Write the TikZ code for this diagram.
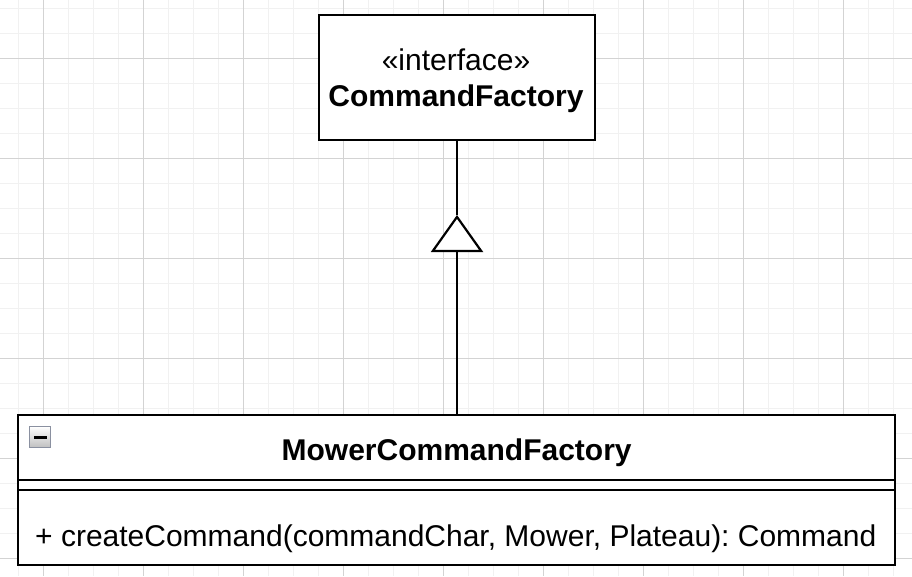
\documentclass[tikz,border=0pt]{standalone}
\usepackage{fontspec}
\setmainfont{Liberation Sans}
\usetikzlibrary{arrows.meta}
\definecolor{gridminor}{HTML}{F1F1F1}
\definecolor{gridmajor}{HTML}{D3D3D3}
\definecolor{iconborder}{HTML}{8A90A0}
\tikzset{
  umlbox/.style={draw=black, line width=2.2pt, fill=white, inner sep=0pt},
  umltext/.style={inner sep=0pt, font=\fontsize{30}{36}\selectfont},
  umlbold/.style={inner sep=0pt, font=\fontsize{30}{36}\selectfont\bfseries},
  conn/.style={line width=2.2pt, draw=black},
}
\begin{document}
\frenchspacing
\begin{tikzpicture}[x=1pt,y=-1pt]
\useasboundingbox (0,0) rectangle (912,576);
\fill[white] (0,0) rectangle (912,576);
% grid
\foreach \x in {0,...,36} {\draw[gridminor, line width=1.3pt] ({18.3+25*\x},0) -- ({18.3+25*\x},576);}
\foreach \y in {0,...,23} {\draw[gridminor, line width=1.3pt] (0,{8.3+25*\y}) -- (912,{8.3+25*\y});}
\foreach \x in {0,...,8} {\draw[gridmajor, line width=1pt] ({43.3+100*\x},0) -- ({43.3+100*\x},576);}
\foreach \y in {0,...,5} {\draw[gridmajor, line width=1pt] (0,{58.3+100*\y}) -- (912,{58.3+100*\y});}
% top interface box
\node[umlbox, minimum width=276pt, minimum height=125pt] (cf) at (457,77.5) {};
\node[umltext, anchor=base] (cfst) at (456,70) {«interface»};
\node[umlbold, anchor=base] (cfname) at (456,106) {CommandFactory};
% bottom class box
\node[umlbox, minimum width=876.7pt, minimum height=150pt] (mcf) at (456.65,490) {};
\draw[conn] (mcf.west |- 0,480) -- (mcf.east |- 0,480);
\draw[conn] (mcf.west |- 0,490) -- (mcf.east |- 0,490);
\node[umlbold, anchor=base] (mcfname) at (456.65,460) {MowerCommandFactory};
\node[umltext, anchor=base west] (mcfop) at (35,546) {+ createCommand(commandChar, Mower, Plateau): Command};
% collapse icon
\shade[top color=white, bottom color=gray!50, draw=iconborder, line width=1.6pt] (29.5,426.5) rectangle (50.5,447.5);
\fill[black] (33.5,435.5) rectangle (46.5,438.8);
% generalization
\coordinate (apex) at (457,215);
\draw[conn, -{Triangle[open, fill=white, length=37pt, width=52pt, line join=miter]}] (mcf.north -| apex) -- (apex);
\draw[conn] (apex) -- (cf.south -| apex);
\end{tikzpicture}
\end{document}
